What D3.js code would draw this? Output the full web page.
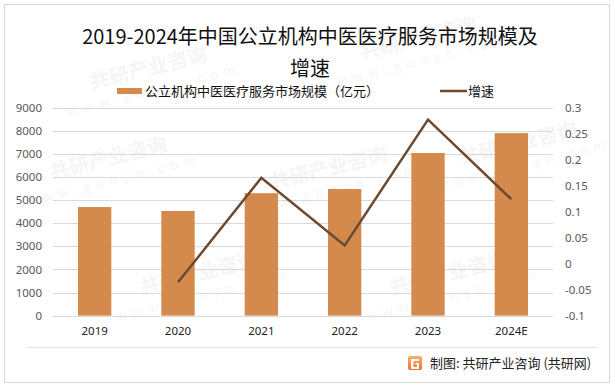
<!DOCTYPE html>
<html>
<head>
<meta charset="utf-8">
<script src="https://cdn.jsdelivr.net/npm/d3@7"></script>
<style>
  html, body { margin: 0; padding: 0; background: #fff; }
  svg { display: block; font-family: "Noto Sans CJK SC", "Noto Sans", sans-serif; }
</style>
</head>
<body>
<svg id="chart" width="615" height="388"></svg>
<script>
// chart data
var categories = ["2019", "2020", "2021", "2022", "2023", "2024E"];
var marketSize = [4700, 4530, 5300, 5480, 7040, 7900];   // 亿元
var growthRate = [null, -0.036, 0.165, 0.035, 0.277, 0.124];
var leftTicks = [0, 1000, 2000, 3000, 4000, 5000, 6000, 7000, 8000, 9000];
var rightTicks = [-0.1, -0.05, 0, 0.05, 0.1, 0.15, 0.2, 0.25, 0.3];

var titleLines = ["2019-2024年中国公立机构中医医疗服务市场规模及", "增速"];
var barLabel = "公立机构中医医疗服务市场规模（亿元）";
var lineLabel = "增速";
var footerText = "制图: 共研产业咨询 (共研网)";

var barColor = "#D38A4C",
    lineColor = "#6B4A2F",
    gridColor = "#d9d9d9";

var svg = d3.select("#chart");
var plot = {left: 53, right: 553, top: 107.7, bottom: 315.6};

// outer frame
svg.append("rect")
  .attr("x", 4.5).attr("y", 4.5)
  .attr("width", 605).attr("height", 378)
  .attr("fill", "#fff")
  .attr("stroke", "#d9d9d9");

// faint watermarks (kept inside the frame)
var marks = [[150, 75], [420, 45], [110, 165], [330, 175], [520, 150],
             [200, 280], [450, 280]];
marks.forEach(function(m) {
  var g = svg.append("g")
    .attr("transform", "translate(" + m[0] + "," + m[1] + ") rotate(-14)")
    .attr("fill", "#f5f5f5");
  g.append("text").attr("font-size", 20).attr("font-weight", "bold")
    .attr("text-anchor", "middle").text("共研产业咨询");
  g.append("text").attr("y", 20).attr("font-size", 13)
    .attr("letter-spacing", 6)
    .attr("text-anchor", "middle").text("www.gonyn.com");
});

var x = d3.scaleBand()
  .domain(categories)
  .range([plot.left, plot.right])
  .paddingInner(0.6)
  .paddingOuter(0.3);

var yLeft = d3.scaleLinear().domain([0, 9000]).range([plot.bottom, plot.top]);
var yRight = d3.scaleLinear().domain([-0.1, 0.3]).range([plot.bottom, plot.top]);

// gridlines
svg.append("g").selectAll("line")
  .data(leftTicks)
  .join("line")
  .attr("x1", plot.left).attr("x2", plot.right)
  .attr("y1", function(d) { return Math.round(yLeft(d)) + 0.5; })
  .attr("y2", function(d) { return Math.round(yLeft(d)) + 0.5; })
  .attr("stroke", gridColor);

// left axis
var leftAxis = svg.append("g")
  .attr("transform", "translate(" + (plot.left - 11) + ",0)")
  .call(d3.axisLeft(yLeft).tickValues(leftTicks).tickSize(0).tickPadding(0)
    .tickFormat(function(d) { return String(d); }));
leftAxis.select(".domain").remove();
leftAxis.selectAll("text")
  .attr("fill", "#595959").attr("font-size", 11.5)
  .attr("font-family", "'Noto Sans', sans-serif");

// right axis
var rightAxis = svg.append("g")
  .attr("transform", "translate(" + (plot.right + 12) + ",0)")
  .call(d3.axisRight(yRight).tickValues(rightTicks).tickSize(0).tickPadding(0)
    .tickFormat(function(d) { return String(+d.toFixed(2)); }));
rightAxis.select(".domain").remove();
rightAxis.selectAll("text")
  .attr("fill", "#595959").attr("font-size", 11.5)
  .attr("font-family", "'Noto Sans', sans-serif");

// bars
svg.append("g").selectAll("rect")
  .data(marketSize)
  .join("rect")
  .attr("x", function(d, i) { return x(categories[i]); })
  .attr("width", x.bandwidth())
  .attr("y", function(d) { return yLeft(d); })
  .attr("height", function(d) { return yLeft(0) - yLeft(d); })
  .attr("fill", barColor);

// growth line
var line = d3.line()
  .defined(function(d) { return d != null; })
  .x(function(d, i) { return x(categories[i]) + x.bandwidth() / 2; })
  .y(function(d) { return yRight(d); });

svg.append("path")
  .datum(growthRate)
  .attr("d", line)
  .attr("fill", "none")
  .attr("stroke", lineColor)
  .attr("stroke-width", 2.5)
  .attr("stroke-linejoin", "miter");

// category labels
var xAxis = svg.append("g")
  .attr("transform", "translate(0," + (plot.bottom + 11) + ")")
  .call(d3.axisBottom(x).tickSize(0).tickPadding(0));
xAxis.select(".domain").remove();
xAxis.selectAll("text")
  .attr("fill", "#222").attr("font-size", 11.5)
  .attr("font-family", "'Noto Sans', sans-serif");

// title
svg.append("g").selectAll("text")
  .data(titleLines)
  .join("text")
  .attr("x", 310)
  .attr("y", function(d, i) { return 44 + i * 32; })
  .attr("text-anchor", "middle")
  .attr("font-size", 20)
  .attr("fill", "#111")
  .text(function(d) { return d; });

// legend
var legend = svg.append("g");
legend.append("rect")
  .attr("x", 117).attr("y", 88).attr("width", 25).attr("height", 6)
  .attr("fill", barColor);
legend.append("text")
  .attr("x", 145).attr("y", 95.5)
  .attr("font-size", 13).attr("fill", "#111")
  .text(barLabel);
legend.append("line")
  .attr("x1", 440).attr("x2", 467).attr("y1", 91).attr("y2", 91)
  .attr("stroke", lineColor).attr("stroke-width", 2.5);
legend.append("text")
  .attr("x", 468).attr("y", 95.5)
  .attr("font-size", 13).attr("fill", "#111")
  .text(lineLabel);

// footer
svg.append("line")
  .attr("x1", 26).attr("x2", 598).attr("y1", 347.5).attr("y2", 347.5)
  .attr("stroke", "#e3e3e3");

var grad = svg.append("defs").append("linearGradient")
  .attr("id", "logoGrad").attr("x1", 0).attr("y1", 0).attr("x2", 0).attr("y2", 1);
grad.append("stop").attr("offset", 0).attr("stop-color", "#f7b267");
grad.append("stop").attr("offset", 1).attr("stop-color", "#ef6b3a");

var logo = svg.append("g").attr("transform", "translate(408,356)");
logo.append("rect").attr("width", 14).attr("height", 14).attr("rx", 2)
  .attr("fill", "url(#logoGrad)");
logo.append("path")
  .attr("d", "M3,3 H11 V5 H5.5 V11 H9 V8.5 H7.5 V7 H11 V13 H3 Z")
  .attr("fill", "#fff");

svg.append("text")
  .attr("x", 430).attr("y", 368)
  .attr("font-size", 13).attr("fill", "#222")
  .text(footerText);
</script>
</body>
</html>
